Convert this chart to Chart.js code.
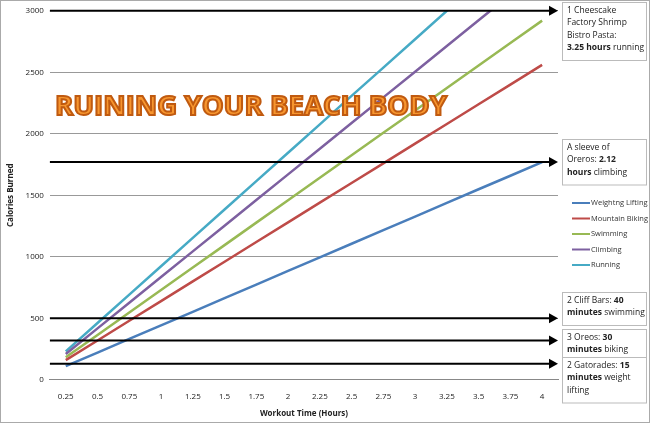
<!DOCTYPE html>
<html>
<head>
<meta charset="utf-8">
<script src="https://cdn.jsdelivr.net/npm/chart.js@4"></script>
<style>
  html, body { margin: 0; padding: 0; background: #fff; }
  #wrap { width: 650px; height: 423px; }
</style>
</head>
<body>
<div id="wrap"><canvas id="c"></canvas></div>
<script>
const hours = ['0.25','0.5','0.75','1','1.25','1.5','1.75','2','2.25','2.5','2.75','3','3.25','3.5','3.75','4'];
const weightLifting = [111,221,332,443,553,664,774,885,996,1106,1217,1327,1438,1549,1659,1770];
const mountainBiking = [160,320,480,640,800,960,1120,1280,1440,1600,1760,1920,2080,2240,2400,2560];
const swimming = [183,365,548,730,913,1095,1278,1460,1643,1825,2008,2190,2373,2555,2738,2920];
const climbing = [209,418,626,835,1044,1253,1461,1670,1879,2088,2296,2505,2714,2923,3131,3340];
const running = [231,462,692,923,1154,1385,1615,1846,2077,2308,2538,2769,3000,3231,3462,3692];

const seriesNames = ['Weightng Lifting','Mountain Biking','Swimming','Climbing','Running'];
const seriesColors = ['#4a7ebb','#be4b48','#98b954','#7d60a0','#46aac5'];

// food markers: calories level and the note beside it
const arrowLevels = [3000, 1770, 500, 320, 130];
const notes = [
  { y: 2, lines: [[['1 Cheescake',0]],[['Factory Shrimp',0]],[['Bistro Pasta:',0]],[['3.25 hours',1],[' running',0]]] },
  { y: 139, lines: [[['A sleeve of',0]],[['Oreros: ',0],['2.12',1]],[['hours',1],[' climbing',0]]] },
  { y: 292, lines: [[['2 Cliff Bars: ',0],['40',1]],[['minutes',1],[' swimming',0]]] },
  { y: 329, lines: [[['3 Oreos: ',0],['30',1]],[['minutes',1],[' biking',0]]] },
  { y: 357, lines: [[['2 Gatorades: ',0],['15',1]],[['minutes',1],[' weight',0]],[['lifting',0]]] }
];

const extras = {
  id: 'extras',
  afterDatasetsDraw(chart) {
    const { ctx, chartArea: a, scales: { y } } = chart;
    ctx.save();
    // title
    ctx.font = 'bold 27px "Open Sans", sans-serif';
    ctx.lineWidth = 2;
    ctx.strokeStyle = '#c05a10';
    ctx.fillStyle = '#f7962f';
    ctx.textBaseline = 'alphabetic';
    const t = 'RUINING YOUR BEACH BODY';
    const sx = 392 / ctx.measureText(t).width;
    ctx.translate(55, 115); ctx.scale(sx, 1);
    ctx.fillText(t, 0, 0); ctx.strokeText(t, 0, 0);
    ctx.setTransform(chart.currentDevicePixelRatio, 0, 0, chart.currentDevicePixelRatio, 0, 0);
    // arrows
    ctx.strokeStyle = '#000';
    ctx.fillStyle = '#000';
    ctx.lineWidth = 2;
    arrowLevels.forEach(v => {
      const py = y.getPixelForValue(v);
      const x1 = a.right;
      ctx.beginPath(); ctx.moveTo(a.left, py); ctx.lineTo(x1 - 6, py); ctx.stroke();
      ctx.beginPath(); ctx.moveTo(x1, py); ctx.lineTo(x1 - 9, py - 5); ctx.lineTo(x1 - 9, py + 5); ctx.closePath(); ctx.fill();
    });
    // note boxes
    notes.forEach(n => {
      const lh = 12.5;
      const h = n.lines.length * lh + 8;
      ctx.fillStyle = '#fff';
      ctx.fillRect(562, n.y, 84, h);
      ctx.strokeStyle = '#bbb'; ctx.lineWidth = 1;
      ctx.strokeRect(562.5, n.y + 0.5, 84, h);
      n.lines.forEach((ln, i) => {
        let x = 567;
        ln.forEach(([s, b]) => {
          ctx.font = (b ? 'bold ' : '') + '8.5px "Open Sans", sans-serif';
          ctx.fillStyle = '#222';
          ctx.textBaseline = 'top';
          ctx.fillText(s, x, n.y + 4 + i * lh);
          x += ctx.measureText(s).width;
        });
      });
    });
    // legend
    seriesNames.forEach((s, i) => {
      const ly = 203 + i * 15.5;
      ctx.strokeStyle = seriesColors[i]; ctx.lineWidth = 2;
      ctx.beginPath(); ctx.moveTo(572, ly); ctx.lineTo(590, ly); ctx.stroke();
      ctx.fillStyle = '#333'; ctx.font = '7.5px "Open Sans", sans-serif';
      ctx.textBaseline = 'middle';
      ctx.fillText(s, 591, ly);
    });
    // frame
    ctx.strokeStyle = '#aaa'; ctx.lineWidth = 1;
    ctx.strokeRect(0.5, 0.5, 649, 422);
    ctx.restore();
  }
};

new Chart(document.getElementById('c'), {
  type: 'line',
  data: {
    labels: hours,
    datasets: seriesNames.map((n, i) => ({
      label: n,
      data: [weightLifting, mountainBiking, swimming, climbing, running][i],
      borderColor: seriesColors[i],
      borderWidth: 2.5,
      pointRadius: 0,
      tension: 0
    }))
  },
  options: {
    responsive: true,
    maintainAspectRatio: false,
    animation: false,
    layout: { padding: { top: 10, right: 92, left: 2, bottom: 4 } },
    plugins: { legend: { display: false }, tooltip: { enabled: false } },
    scales: {
      x: {
        offset: true,
        grid: { display: false },
        border: { color: '#888' },
        ticks: { color: '#222', font: { size: 8, family: '"Open Sans", sans-serif' }, maxRotation: 0, autoSkip: false, padding: 4 },
        title: { display: true, text: 'Workout Time (Hours)', color: '#222', font: { size: 8, weight: 'bold', family: '"Open Sans", sans-serif' }, padding: { top: 4, bottom: 0 } }
      },
      y: {
        min: 0, max: 3000,
        ticks: { stepSize: 500, color: '#222', font: { size: 8, family: '"Open Sans", sans-serif' }, padding: 6, callback: v => String(v) },
        grid: { color: '#999', drawTicks: false },
        border: { display: false },
        title: { display: true, text: 'Calories Burned', color: '#222', font: { size: 8, weight: 'bold', family: '"Open Sans", sans-serif' } }
      }
    }
  },
  plugins: [extras]
});
</script>
</body>
</html>
